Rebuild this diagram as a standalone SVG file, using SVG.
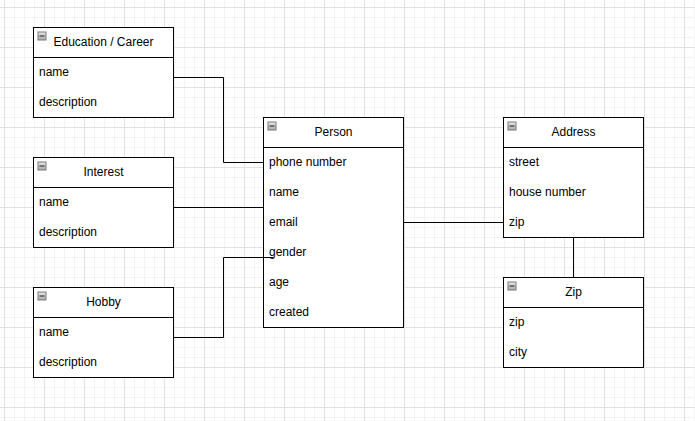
<svg xmlns="http://www.w3.org/2000/svg" width="695" height="421" viewBox="0 0 695 421">
<defs>
<pattern id="minor" x="4" y="7" width="10" height="10" patternUnits="userSpaceOnUse">
<path d="M0.5 0V10M0 0.5H10" stroke="#f3f3f3" stroke-width="1" fill="none"/>
</pattern>
<pattern id="major" x="4" y="7" width="40" height="40" patternUnits="userSpaceOnUse">
<path d="M0.5 0V40M0 0.5H40" stroke="#e2e2e2" stroke-width="1" fill="none"/>
</pattern>
<linearGradient id="ig" x1="0" y1="0" x2="0" y2="1">
<stop offset="0" stop-color="#e8e8e8"/>
<stop offset="1" stop-color="#a8a8a8"/>
</linearGradient>
<g id="icon">
<rect x="0.5" y="0.5" width="8" height="8" fill="url(#ig)" stroke="#7a7a7a" stroke-width="1"/>
<path d="M2 4.5H7" stroke="#222" stroke-width="1"/>
</g>
</defs>
<style>
.box{fill:#ffffff;stroke:#000000;stroke-width:1}
.sep{stroke:#000000;stroke-width:1}
.t{font-family:"Liberation Sans",Arial,sans-serif;font-size:12px;fill:#000000}
.h{text-anchor:middle}
.c{fill:none;stroke:#000000;stroke-width:1}
</style>
<rect width="695" height="421" fill="#ffffff"/>
<rect width="695" height="421" fill="url(#minor)"/>
<rect width="695" height="421" fill="url(#major)"/>

<g id="connectors">
<path class="c" d="M173.5 77.5H223.5V162.5H263.5"/>
<path class="c" d="M173.5 207.5H263.5"/>
<path class="c" d="M173.5 337.5H223.5V257.5H273.5"/>
<path class="c" d="M403.5 222.5H503.5"/>
<path class="c" d="M573.5 237.5V277.5"/>
</g>

<g id="education">
<rect class="box" x="33.5" y="27.5" width="140" height="90"/>
<line class="sep" x1="33.5" y1="57.5" x2="173.5" y2="57.5"/>
<use href="#icon" x="37.5" y="31.5"/>
<text class="t h" x="103.5" y="46">Education / Career</text>
<text class="t" x="39" y="76">name</text>
<text class="t" x="39" y="106">description</text>
</g>

<g id="interest">
<rect class="box" x="33.5" y="157.5" width="140" height="90"/>
<line class="sep" x1="33.5" y1="187.5" x2="173.5" y2="187.5"/>
<use href="#icon" x="37.5" y="161.5"/>
<text class="t h" x="103.5" y="176">Interest</text>
<text class="t" x="39" y="206">name</text>
<text class="t" x="39" y="236">description</text>
</g>

<g id="hobby">
<rect class="box" x="33.5" y="287.5" width="140" height="90"/>
<line class="sep" x1="33.5" y1="317.5" x2="173.5" y2="317.5"/>
<use href="#icon" x="37.5" y="291.5"/>
<text class="t h" x="103.5" y="306">Hobby</text>
<text class="t" x="39" y="336">name</text>
<text class="t" x="39" y="366">description</text>
</g>

<g id="person">
<rect class="box" x="263.5" y="117.5" width="140" height="210"/>
<line class="sep" x1="263.5" y1="147.5" x2="403.5" y2="147.5"/>
<use href="#icon" x="267.5" y="121.5"/>
<text class="t h" x="333.5" y="136">Person</text>
<text class="t" x="269" y="166">phone number</text>
<text class="t" x="269" y="196">name</text>
<text class="t" x="269" y="226">email</text>
<text class="t" x="269" y="256">gender</text>
<text class="t" x="269" y="286">age</text>
<text class="t" x="269" y="316">created</text>
</g>
<path class="c" d="M263.5 257.5H273.5"/>

<g id="address">
<rect class="box" x="503.5" y="117.5" width="140" height="120"/>
<line class="sep" x1="503.5" y1="147.5" x2="643.5" y2="147.5"/>
<use href="#icon" x="507.5" y="121.5"/>
<text class="t h" x="573.5" y="136">Address</text>
<text class="t" x="509" y="166">street</text>
<text class="t" x="509" y="196">house number</text>
<text class="t" x="509" y="226">zip</text>
</g>

<g id="zip">
<rect class="box" x="503.5" y="277.5" width="140" height="90"/>
<line class="sep" x1="503.5" y1="307.5" x2="643.5" y2="307.5"/>
<use href="#icon" x="507.5" y="281.5"/>
<text class="t h" x="573.5" y="296">Zip</text>
<text class="t" x="509" y="326">zip</text>
<text class="t" x="509" y="356">city</text>
</g>
</svg>
